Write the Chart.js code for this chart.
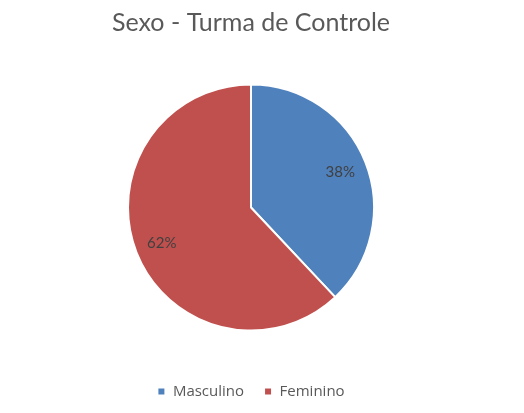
<!DOCTYPE html>
<html>
<head>
<meta charset="UTF-8">
<script src="https://cdn.jsdelivr.net/npm/chart.js@4"></script>
<style>
  html, body { margin: 0; padding: 0; background: #fff; }
  #wrap { width: 524px; height: 413px; }
</style>
</head>
<body>
<div id="wrap"><canvas id="grafica" width="524" height="413"></canvas></div>
<script>
const categorias = ['Masculino', 'Feminino'];
const valores = [38, 62];
const cores = ['#4F81BD', '#C0504D'];

// escreve a porcentagem dentro de cada fatia
const rotulos = {
    id: 'rotulos',
    afterDatasetsDraw(chart) {
        const ctx = chart.ctx;
        const meta = chart.getDatasetMeta(0);
        const total = valores.reduce((a, b) => a + b, 0);
        ctx.save();
        ctx.font = '15px Lato, "Open Sans", sans-serif';
        ctx.fillStyle = '#404040';
        ctx.textAlign = 'center';
        ctx.textBaseline = 'middle';
        meta.data.forEach((arc, i) => {
            const p = arc.getProps(['x', 'y', 'startAngle', 'endAngle', 'outerRadius'], true);
            const meio = (p.startAngle + p.endAngle) / 2;
            const r = p.outerRadius * 0.78;
            const pct = Math.round(valores[i] / total * 100) + '%';
            ctx.fillText(pct, p.x + Math.cos(meio) * r, p.y + Math.sin(meio) * r);
        });
        ctx.restore();
    }
};

new Chart(document.getElementById('grafica').getContext('2d'), {
    type: 'pie',
    data: {
        labels: categorias,
        datasets: [{
            data: valores,
            backgroundColor: cores,
            borderColor: '#ffffff',
            borderWidth: 2
        }]
    },
    options: {
        responsive: false,
        animation: false,
        radius: 123,
        layout: { padding: { left: 0, right: 22, top: 0, bottom: 4 } },
        plugins: {
            title: {
                display: true,
                text: 'Sexo - Turma de Controle',
                color: '#595959',
                font: { family: 'Lato, "Open Sans", sans-serif', size: 25, weight: 'normal' },
                padding: { top: 8, bottom: 13 }
            },
            legend: {
                position: 'bottom',
                labels: {
                    color: '#595959',
                    font: { family: '"Open Sans", Lato, sans-serif', size: 15 },
                    boxWidth: 8,
                    boxHeight: 8,
                    padding: 20
                }
            },
            tooltip: { enabled: false }
        }
    },
    plugins: [rotulos]
});
</script>
</body>
</html>
